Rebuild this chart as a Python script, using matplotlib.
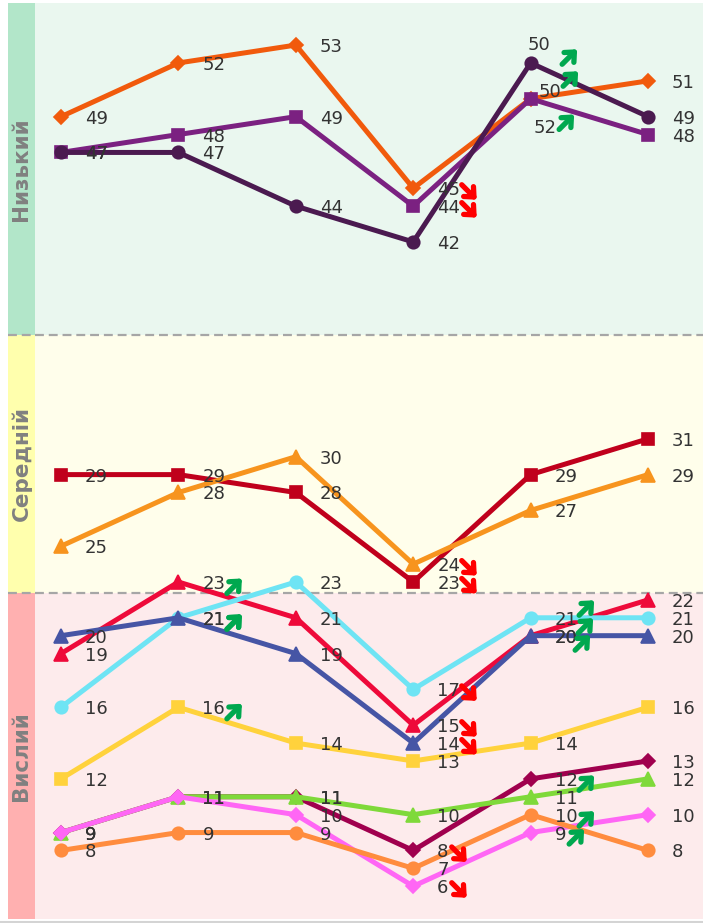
import matplotlib
matplotlib.use('Agg')
import matplotlib.pyplot as plt
from matplotlib.transforms import ScaledTranslation
from matplotlib.lines import Line2D

W, H, DPI = 703, 923, 100
plt.rcParams['font.family'] = ['DejaVu Sans']

# ---------------- data ----------------
periods = [0, 1, 2, 3, 4, 5]
bands = ["Низький", "Середній", "Вислий"]

low_orange = [49, 52, 53, 45, 50, 51]
low_purple = [47, 48, 49, 44, 50, 48]
low_dark = [47, 47, 44, 42, 52, 49]
mid_red = [29, 29, 28, 23, 29, 31]
mid_orange = [25, 28, 30, 24, 27, 29]
high_red = [19, 23, 21, 15, 20, 22]
high_cyan = [16, 21, 23, 17, 21, 21]
high_blue = [20, 21, 19, 14, 20, 20]
high_yellow = [12, 16, 14, 13, 14, 16]
high_maroon = [9, 11, 11, 8, 12, 13]
high_green = [9, 11, 11, 10, 11, 12]
high_pink = [9, 11, 10, 6, 9, 10]
high_orange = [8, 9, 9, 7, 10, 8]

# significant change: +1 up, -1 down, 0 none
low_orange_sig = [0, 0, 0, -1, 1, 0]
low_purple_sig = [0, 0, 0, -1, 1, 0]
low_dark_sig = [0, 0, 0, 0, 1, 0]
mid_red_sig = [0, 0, 0, -1, 0, 0]
mid_orange_sig = [0, 0, 0, -1, 0, 0]
high_red_sig = [0, 1, 0, -1, 1, 0]
high_cyan_sig = [0, 1, 0, -1, 1, 0]
high_blue_sig = [0, 1, 0, -1, 1, 0]
high_yellow_sig = [0, 1, 0, 0, 0, 0]
high_maroon_sig = [0, 0, 0, -1, 1, 0]
high_green_sig = [0, 0, 0, 0, 0, 0]
high_pink_sig = [0, 0, 0, -1, 1, 0]
high_orange_sig = [0, 0, 0, 0, 1, 0]

# ---------------- styles ----------------
series = [
    ("low_orange", low_orange, low_orange_sig, '#F15A0C', 'D', 7),
    ("low_purple", low_purple, low_purple_sig, '#7B2181', 's', 9),
    ("low_dark", low_dark, low_dark_sig, '#4B1A50', 'o', 9),
    ("mid_red", mid_red, mid_red_sig, '#C0001C', 's', 9),
    ("mid_orange", mid_orange, mid_orange_sig, '#F7941E', '^', 10),
    ("high_red", high_red, high_red_sig, '#EE0A3A', '^', 10),
    ("high_cyan", high_cyan, high_cyan_sig, '#6EE4F4', 'o', 9),
    ("high_blue", high_blue, high_blue_sig, '#4655A5', '^', 10),
    ("high_yellow", high_yellow, high_yellow_sig, '#FFD23C', 's', 9),
    ("high_maroon", high_maroon, high_maroon_sig, '#A0004E', 'D', 7),
    ("high_green", high_green, high_green_sig, '#7FD93A', '^', 10),
    ("high_pink", high_pink, high_pink_sig, '#FF66F5', 'D', 7),
    ("high_orange", high_orange, high_orange_sig, '#FF8C3E', 'o', 9),
]

# label offsets (pixels, y up) of label centre relative to the point
label_off = {
    ("low_orange", 4): (-3, 56),
    ("low_purple", 4): (8, 9),
    ("low_dark", 4): (3, -63),
}
# arrow centre offsets (pixels, y up) relative to the point
arrow_off = {
    ("low_orange", 4): (39, 42),
    ("low_purple", 4): (40, 20),
    ("low_dark", 4): (36, -59),
    ("high_cyan", 4): (56, 10),
    ("high_red", 4): (55, 10),
    ("high_blue", 4): (52, -7),
}

band_bg = ['#EAF7EF', '#FFFEEB', '#FDEBEC']
band_strip = ['#B2E6C9', '#FFFFAD', '#FFB0B0']

y_top, y_bot = 55.35, 4.17
band_edges = [y_top, 36.81, 22.41, y_bot]
x_lo, x_hi = -0.2215, 5.468

fig = plt.figure(figsize=(W / DPI, H / DPI), dpi=DPI)
fig.patch.set_facecolor('white')

ax_bottom = (923 - 919) / H
ax_height = (919 - 3) / H
ax = fig.add_axes([35 / W, ax_bottom, (W - 35) / W, ax_height])
sx = fig.add_axes([8 / W, ax_bottom, 27 / W, ax_height])

for a in (ax, sx):
    a.set_ylim(y_bot, y_top)
    a.set_axis_off()
ax.set_xlim(x_lo, x_hi)
sx.set_xlim(0, 1)

for i in range(3):
    hi, lo = band_edges[i], band_edges[i + 1]
    ax.axhspan(lo, hi, color=band_bg[i], zorder=0, lw=0)
    sx.axhspan(lo, hi, color=band_strip[i], zorder=0, lw=0)
    sx.text(0.5, (lo + hi) / 2, bands[i], rotation=90, ha='center', va='center',
            fontsize=15.5, fontweight='bold', color='#808080')

for yb in band_edges[1:3]:
    for a in (ax, sx):
        a.axhline(yb, color='#A6A6A6', lw=1.6, ls=(0, (4, 2.2)), zorder=1)

fig.add_artist(Line2D([0, 1], [1.5 / H, 1.5 / H], transform=fig.transFigure,
                      color='#D4D4D4', lw=1.5))


def off_trans(dx, dy):
    return ax.transData + ScaledTranslation(dx / DPI, dy / DPI, fig.dpi_scale_trans)


def draw_arrow(x, v, cx, cy, direction):
    half = 7.5
    color = '#00A84F' if direction > 0 else '#FF0000'
    tail = off_trans(cx - half, cy - direction * half)
    head = off_trans(cx + half, cy + direction * half)
    ax.annotate('', xy=(x, v), xycoords=head, xytext=(x, v), textcoords=tail,
                arrowprops=dict(arrowstyle='->,head_length=0.55,head_width=0.5',
                                lw=3.8, color=color, shrinkA=0, shrinkB=0),
                zorder=6)


for k, (name, vals, sig, color, marker, ms) in enumerate(series):
    ax.plot(periods, vals, color=color, lw=3.6, marker=marker, ms=ms,
            mec=color, mfc=color, mew=1.2, zorder=3 + k * 0.01,
            solid_capstyle='round')
    for x, v, s in zip(periods, vals, sig):
        txt = str(v)
        dx, dy = label_off.get((name, x), (24, 0))
        ax.annotate(txt, xy=(x, v), xycoords=off_trans(dx, dy - 7),
                    ha='left', va='baseline', fontsize=13, color='#333333', zorder=5)
        if s != 0:
            adx, ady = arrow_off.get((name, x), (24 + 10 * len(txt) + 12, -4))
            draw_arrow(x, v, adx, ady, s)

fig.savefig('out.png', dpi=DPI)
